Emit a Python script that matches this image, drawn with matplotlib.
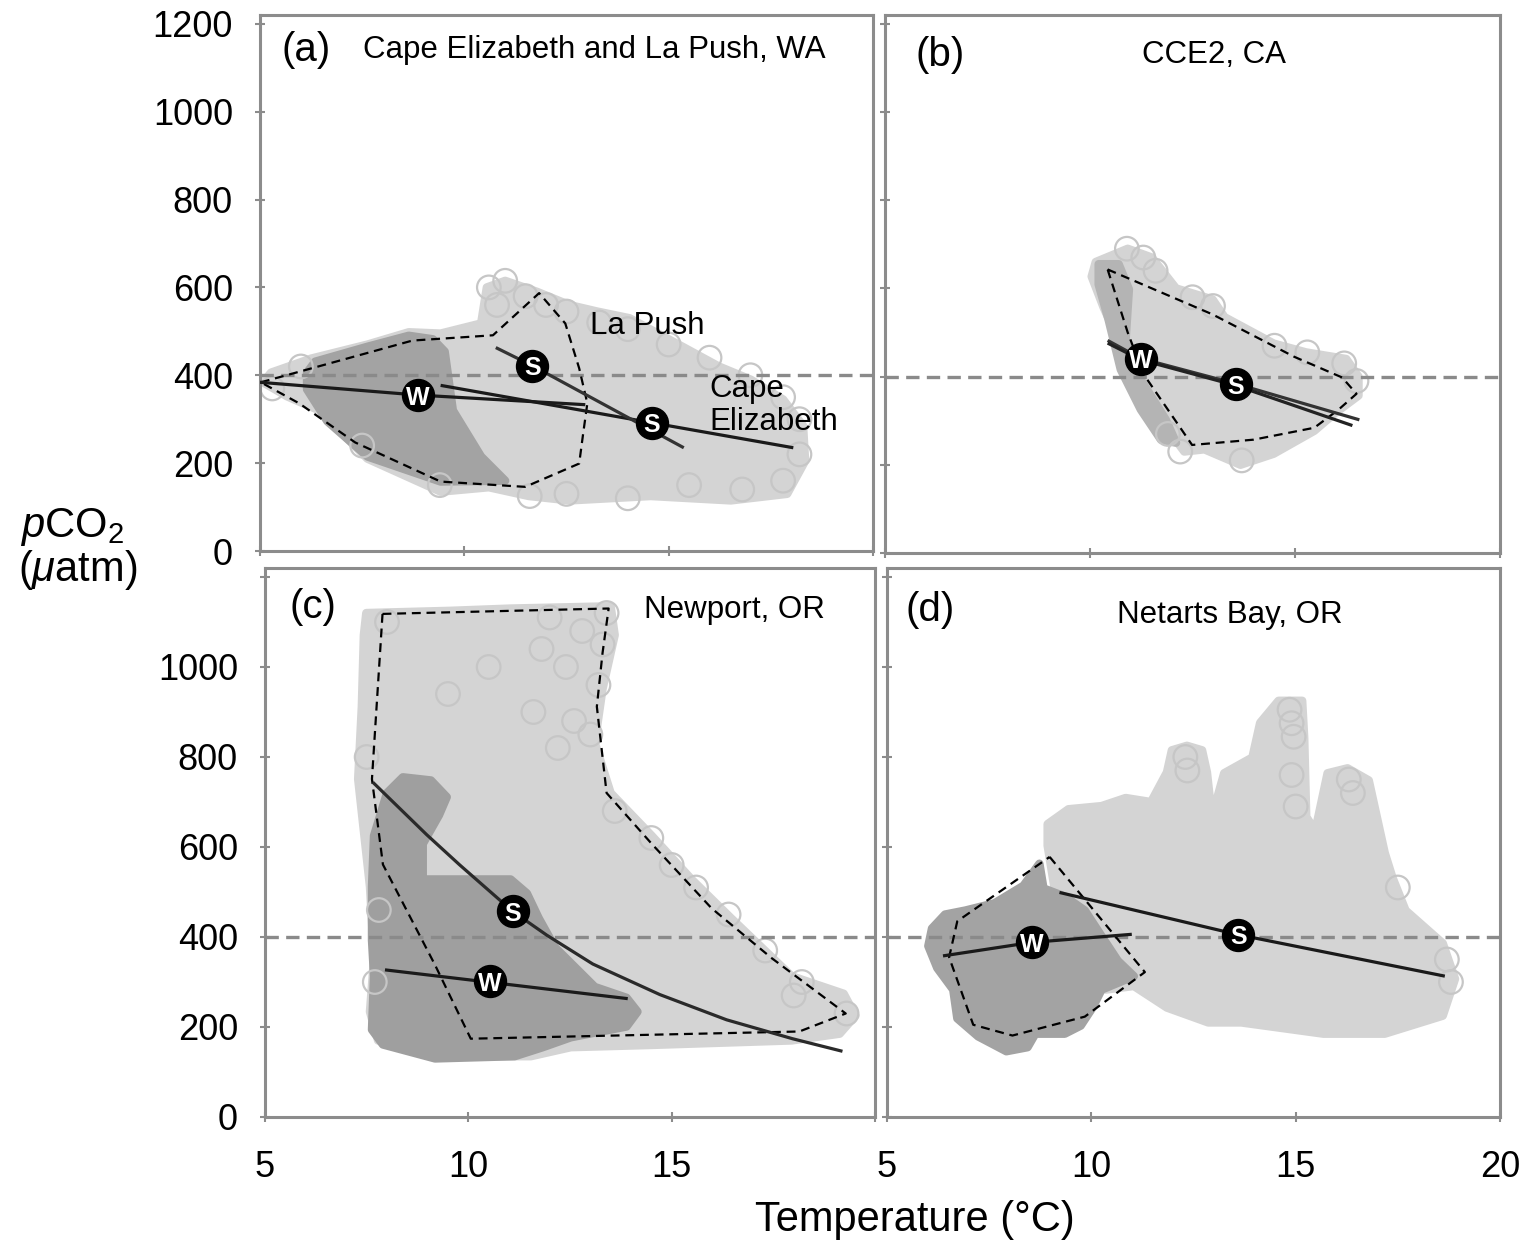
import matplotlib
matplotlib.use("Agg")
import matplotlib.pyplot as plt

plt.rcParams['font.family'] = ['Liberation Sans', 'DejaVu Sans']
plt.rcParams['mathtext.fontset'] = 'custom'
plt.rcParams['mathtext.rm'] = 'Liberation Sans'
plt.rcParams['mathtext.it'] = 'Liberation Sans:italic'

# ---- panel (a) Cape Elizabeth and La Push, WA ----
a_light_T = [6.25, 7.63, 8.64, 9.42, 10.41, 10.55, 11.0, 11.78, 12.57, 13.26, 14.04, 15.34, 16.23, 17.01,
             17.80, 18.29, 18.34, 17.90, 16.52, 14.56, 12.57, 11.58, 10.60, 9.42, 7.63, 6.45, 5.66, 5.07, 5.27]
a_light_P = [438, 470, 498, 495, 518, 600, 615, 590, 560, 545, 530, 465, 420, 390,
             345, 285, 205, 130, 115, 125, 115, 125, 145, 135, 210, 320, 352, 384, 406]
a_dark_T = [6.35, 7.63, 8.64, 9.23, 9.52, 9.72, 10.41, 11.0, 9.42, 7.63, 6.65, 6.15, 6.15]
a_dark_P = [431, 465, 490, 482, 454, 320, 215, 160, 158, 215, 295, 368, 406]
a_open_T = [10.6, 11.0, 11.5, 12.0, 10.8, 12.5, 13.3, 14.0, 15.0, 16.0, 17.0, 17.8, 18.2, 18.2, 17.8,
            16.8, 15.5, 14.0, 12.5, 11.6, 9.4, 7.5, 5.3, 6.0]
a_open_P = [600, 615, 580, 560, 560, 545, 520, 505, 470, 440, 400, 350, 300, 220, 160,
            140, 150, 120, 130, 125, 150, 240, 370, 420]
a_poly_T = [5.02, 8.73, 10.70, 11.83, 12.47, 12.81, 13.01, 12.91, 12.81, 11.49, 9.42, 7.33, 5.96]
a_poly_P = [384, 479, 491, 587, 518, 416, 336, 269, 199, 146, 158, 247, 336]
a_w_T, a_w_P = [5.0, 8.86, 12.96], [384, 355, 333]
a_ce_T, a_ce_P = [9.42, 14.58, 18.05], [377, 292, 235]
a_lp_T, a_lp_P = [10.77, 11.66, 15.37], [463, 422, 235]
a_marks = [("W", 8.86, 355), ("S", 11.66, 422), ("S", 14.58, 292)]

# ---- panel (b) CCE2, CA ----
b_light_T = [10.14, 10.92, 11.51, 12.10, 12.99, 13.28, 14.48, 15.27, 16.25, 16.55, 16.55, 15.96, 15.47,
             14.48, 13.67, 12.79, 12.30, 11.90, 11.51, 10.92, 10.72, 10.33, 10.04]
b_light_P = [660, 690, 670, 600, 575, 535, 475, 455, 440, 400, 357, 316, 277,
             225, 200, 235, 230, 280, 357, 398, 477, 557, 627]
b_dark_T = [10.21, 10.7, 10.95, 10.87, 11.24, 11.85, 12.1, 11.73, 11.24, 10.75, 10.45, 10.21]
b_dark_P = [655, 655, 598, 484, 393, 302, 250, 257, 325, 416, 530, 609]
b_open_T = [10.9, 11.3, 11.6, 12.5, 13.0, 14.5, 15.3, 16.2, 16.5, 12.2, 11.9, 13.7]
b_open_P = [690, 670, 640, 580, 560, 470, 455, 430, 390, 230, 270, 210]
b_poly_T = [10.43, 12.99, 14.98, 16.15, 16.5, 16.06, 15.47, 13.99, 12.49, 11.31, 10.92]
b_poly_P = [643, 541, 445, 398, 361, 325, 284, 257, 245, 405, 500]
b_fit1_T, b_fit1_P = [10.43, 11.24, 13.55, 16.57], [482, 441, 384, 302]
b_fit2_T, b_fit2_P = [10.43, 11.24, 13.55, 16.40], [476, 438, 380, 289]
b_marks = [("W", 11.24, 440), ("S", 13.55, 383)]

# ---- panel (c) Newport, OR ----
c_light_T = [7.49, 9.57, 11.04, 13.50, 13.60, 13.30, 13.11, 13.50, 14.51, 15.49, 16.47, 17.95, 19.23, 19.52,
             19.13, 17.95, 14.51, 12.52, 11.54, 9.18, 7.78, 7.58, 7.68, 7.58, 7.29, 7.38, 7.43]
c_light_P = [1120, 1125, 1130, 1135, 1071, 951, 832, 720, 625, 528, 441, 313, 274, 225,
             185, 170, 160, 155, 135, 135, 170, 234, 353, 512, 751, 912, 1071]
c_dark_T = [7.68, 8.0, 8.39, 9.08, 9.47, 9.28, 8.88, 8.88, 9.77, 11.04, 11.44, 11.73, 12.13, 13.11, 13.89,
            14.16, 13.89, 12.52, 11.83, 11.14, 9.18, 7.90, 7.63, 7.68, 7.63, 7.63]
c_dark_P = [625, 720, 755, 748, 711, 671, 607, 528, 528, 528, 497, 442, 377, 289, 265,
            234, 201, 177, 155, 135, 130, 161, 194, 313, 393, 512]
c_open_T = [13.4, 12.0, 12.8, 13.3, 11.8, 12.4, 13.2, 11.6, 12.6, 13.0, 12.2, 13.6, 14.5, 15.0, 15.6,
            16.4, 17.3, 18.2, 19.3, 18.0, 8.0, 7.5, 7.8, 7.7, 10.5, 9.5]
c_open_P = [1120, 1110, 1080, 1050, 1040, 1000, 960, 900, 880, 850, 820, 680, 620, 560, 510,
            450, 370, 300, 230, 270, 1100, 800, 460, 300, 1000, 940]
c_poly_T = [7.89, 13.45, 13.30, 13.16, 13.40, 14.51, 15.98, 17.46, 19.28, 18.14, 10.06, 9.18, 7.90, 7.63, 7.80]
c_poly_P = [1118, 1130, 1031, 912, 720, 607, 464, 353, 230, 190, 174, 338, 561, 751, 991]
c_s_T = [7.65, 8.98, 9.79, 11.09, 11.93, 13.06, 14.71, 16.35, 17.97, 19.20]
c_s_P = [744, 627, 560, 457, 404, 340, 272, 216, 174, 146]
c_w_T, c_w_P = [7.95, 13.92], [327, 263]
c_marks = [("S", 11.09, 457), ("W", 10.53, 302)]

# ---- panel (d) Netarts Bay, OR ----
d_light_T = [8.93, 8.93, 9.44, 10.25, 10.84, 11.46, 11.85, 11.97, 12.34, 12.71, 12.83, 12.95, 13.25, 13.94,
             14.13, 14.58, 15.16, 15.21, 15.26, 15.48, 15.78, 16.27, 16.79, 17.18, 17.37, 17.69, 18.60,
             18.90, 18.60, 17.18, 15.68, 13.67, 12.86, 11.85, 11.04, 10.35, 10.13, 9.27]
d_light_P = [603, 651, 684, 691, 709, 700, 766, 815, 825, 815, 766, 667, 764, 799,
             876, 925, 925, 843, 667, 636, 764, 775, 748, 587, 532, 459, 386,
             307, 225, 185, 185, 210, 210, 243, 291, 283, 322, 413]
d_dark_T = [6.42, 6.92, 7.63, 8.34, 8.73, 8.83, 9.35, 9.84, 10.25, 10.65, 11.04, 10.65, 10.25, 10.03,
            9.74, 9.35, 8.63, 8.44, 7.92, 7.23, 6.72, 6.62, 6.23, 6.01, 6.10]
d_dark_P = [450, 459, 475, 514, 563, 508, 490, 459, 402, 347, 313, 298, 283, 243,
            203, 185, 185, 155, 146, 179, 219, 283, 331, 380, 419]
d_open_T = [14.85, 14.9, 14.95, 14.9, 12.3, 12.35, 16.3, 16.4, 15.0, 18.7, 18.8, 17.5]
d_open_P = [905, 875, 845, 760, 800, 770, 750, 720, 690, 350, 300, 510]
d_poly_T = [8.98, 11.31, 9.84, 8.07, 7.11, 6.52, 6.72]
d_poly_P = [578, 322, 223, 181, 205, 355, 435]
d_w_T, d_w_P = [6.37, 8.54, 10.99], [358, 388, 406]
d_s_T, d_s_P = [9.22, 13.6, 18.65], [499, 405, 313]
d_marks = [("W", 8.54, 388), ("S", 13.6, 405)]

LIGHT = "#d4d4d4"
DARK = "#a3a3a3"
OPEN = "#c6c6c6"
SPINE = "#8c8c8c"

fig = plt.figure(figsize=(15.26, 12.44), dpi=100)
W, H = 1526, 1244


def make_ax(l, r, t, b):
    ax = fig.add_axes([l / W, 1 - b / H, (r - l) / W, (b - t) / H])
    ax.set_xlim(5, 20)
    ax.set_ylim(0, 1220)
    for s in ax.spines.values():
        s.set_color(SPINE)
        s.set_linewidth(2.2)
    ax.set_xticks([5, 10, 15, 20])
    ax.set_yticks(range(0, 1201, 200))
    ax.tick_params(direction="inout", length=7, width=1.5, color=SPINE,
                   labelsize=26, pad=16)
    ax.tick_params(axis="x", pad=20)
    ax.set_xticklabels([])
    ax.set_yticklabels([])
    return ax


def cloud(ax, T, P, color, z):
    ax.fill(T, P, facecolor=color, edgecolor=color, lw=6, joinstyle="round", zorder=z)


def open_circles(ax, T, P):
    ax.scatter(T, P, s=17 ** 2, facecolors="none", edgecolors=OPEN, linewidths=1.6, zorder=2)


def outline(ax, T, P):
    ax.plot(list(T) + [T[0]], list(P) + [P[0]], color="black", lw=1.6,
            ls=(0, (4, 2.6)), zorder=4)


def fit(ax, T, P, color="#1a1a1a"):
    ax.plot(T, P, color=color, lw=2.3, zorder=5, solid_capstyle="butt")


def marks(ax, items):
    for lab, t, p in items:
        ax.plot(t, p, "o", ms=23, color="black", zorder=6)
        ax.text(t, p, lab, color="white", fontsize=18, fontweight="bold",
                ha="center", va="center_baseline", zorder=7)


def ref_line(ax):
    ax.axhline(400, color="#8a8a8a", lw=2.4, ls=(0, (4, 2.2)), zorder=3)


# (a)
ax = make_ax(260, 873, 15, 551)
cloud(ax, a_light_T, a_light_P, LIGHT, 1)
open_circles(ax, a_open_T, a_open_P)
cloud(ax, a_dark_T, a_dark_P, DARK, 1.5)
ref_line(ax)
outline(ax, a_poly_T, a_poly_P)
fit(ax, a_w_T, a_w_P)
fit(ax, a_ce_T, a_ce_P)
fit(ax, a_lp_T, a_lp_P, "#333333")
marks(ax, a_marks)
ax.set_yticklabels([str(v) for v in range(0, 1201, 200)])
ax.text(0.035, 0.935, "(a)", transform=ax.transAxes, fontsize=29, va="center")
ax.text(0.545, 0.935, "Cape Elizabeth and La Push, WA", transform=ax.transAxes,
        fontsize=22.5, ha="center", va="center")
ax.text(13.08, 511, "La Push", fontsize=22.5, va="center")
ax.text(16.0, 331, "Cape\nElizabeth", fontsize=22.5, va="center", linespacing=1.15)

# (b)
ax = make_ax(885, 1500, 15, 553)
cloud(ax, b_light_T, b_light_P, LIGHT, 1)
open_circles(ax, b_open_T, b_open_P)
cloud(ax, b_dark_T, b_dark_P, "#b4b4b4", 1.5)
ref_line(ax)
outline(ax, b_poly_T, b_poly_P)
fit(ax, b_fit1_T, b_fit1_P, "#333333")
fit(ax, b_fit2_T, b_fit2_P, "#222222")
marks(ax, b_marks)
ax.text(0.05, 0.926, "(b)", transform=ax.transAxes, fontsize=29, va="center")
ax.text(0.535, 0.926, "CCE2, CA", transform=ax.transAxes, fontsize=22.5,
        ha="center", va="center")

# (c)
ax = make_ax(265, 875, 568, 1117)
cloud(ax, c_light_T, c_light_P, LIGHT, 1)
open_circles(ax, c_open_T, c_open_P)
cloud(ax, c_dark_T, c_dark_P, "#9f9f9f", 1.5)
ref_line(ax)
outline(ax, c_poly_T, c_poly_P)
fit(ax, c_s_T, c_s_P, "#2a2a2a")
fit(ax, c_w_T, c_w_P)
marks(ax, c_marks)
ax.set_yticklabels([str(v) for v in range(0, 1001, 200)] + [""])
ax.set_xticklabels(["5", "10", "15", ""])
ax.text(0.04, 0.929, "(c)", transform=ax.transAxes, fontsize=29, va="center")
ax.text(0.77, 0.923, "Newport, OR", transform=ax.transAxes, fontsize=22.5,
        ha="center", va="center")

# (d)
ax = make_ax(887, 1500, 568, 1117)
cloud(ax, d_light_T, d_light_P, LIGHT, 1)
open_circles(ax, d_open_T, d_open_P)
cloud(ax, d_dark_T, d_dark_P, DARK, 1.5)
ref_line(ax)
outline(ax, d_poly_T, d_poly_P)
fit(ax, d_w_T, d_w_P)
fit(ax, d_s_T, d_s_P)
marks(ax, d_marks)
ax.set_xticklabels(["5", "10", "15", "20"])
ax.text(0.03, 0.923, "(d)", transform=ax.transAxes, fontsize=29, va="center")
ax.text(0.56, 0.914, "Netarts Bay, OR", transform=ax.transAxes, fontsize=22.5,
        ha="center", va="center")

# shared axis labels
fig.text(915 / W, 1 - 1220 / H, "Temperature (°C)", fontsize=30, ha="center", va="center")
fig.text(20 / W, 1 - 527 / H, r"$p$CO$_2$", fontsize=30, ha="left", va="center")
fig.text(18 / W, 1 - 570 / H, r"($\mu$atm)", fontsize=30, ha="left", va="center")

fig.savefig("out.png", dpi=100)
